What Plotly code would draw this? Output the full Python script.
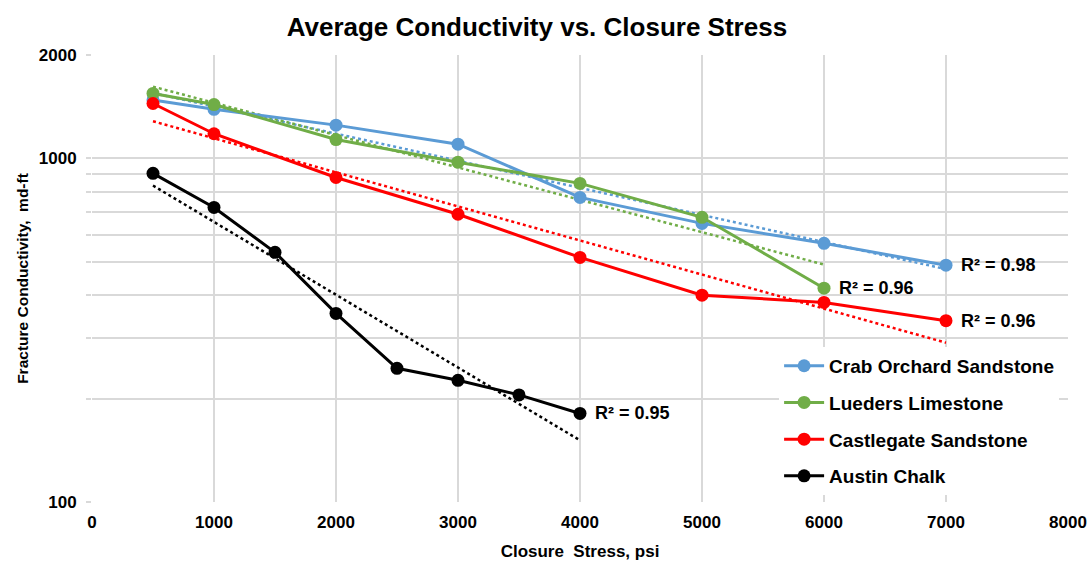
import numpy as np
import plotly.graph_objects as go

# Closure stress (psi) and average fracture conductivity (md-ft) per formation
crab_x = [500, 1000, 2000, 3000, 4000, 5000, 6000, 7000]
crab_y = [1480, 1390, 1250, 1100, 770, 647, 566, 489]

lueders_x = [500, 1000, 2000, 3000, 4000, 5000, 6000]
lueders_y = [1546, 1435, 1135, 975, 846, 674, 419]

castle_x = [500, 1000, 2000, 3000, 4000, 5000, 6000, 7000]
castle_y = [1445, 1180, 880, 688, 515, 400, 381, 337]

austin_x = [500, 1000, 1500, 2000, 2500, 3000, 3500, 4000]
austin_y = [905, 720, 533, 354, 245, 226, 205, 181]

names = ["Crab Orchard Sandstone", "Lueders Limestone", "Castlegate Sandstone", "Austin Chalk"]
colors = ["#5B9BD5", "#70AD47", "#FF0000", "#000000"]
r2_labels = ["R² = 0.98", "R² = 0.96", "R² = 0.96", "R² = 0.95"]

y_tickvals = [100, 200, 300, 400, 500, 600, 700, 800, 900, 1000, 2000]
y_ticktext = ["100", "", "", "", "", "", "", "", "", "1000", "2000"]

FONT = "Liberation Sans, Arial, sans-serif"
GRID = "#D9D9D9"

series = [(crab_x, crab_y), (lueders_x, lueders_y), (castle_x, castle_y), (austin_x, austin_y)]

fig = go.Figure()

# exponential trendlines (least squares on ln y), dotted
for (xs, ys), c in zip(series, colors):
    b, ln_a = np.polyfit(np.array(xs, float), np.log(np.array(ys, float)), 1)
    tx = np.array([xs[0], xs[-1]], float)
    fig.add_trace(go.Scatter(
        x=tx, y=np.exp(ln_a + b * tx), mode="lines",
        line=dict(color=c, width=2.5, dash="dot"),
        showlegend=False, hoverinfo="skip"))

# measured data
for i, ((xs, ys), c, n) in enumerate(zip(series, colors, names)):
    fig.add_trace(go.Scatter(
        x=xs, y=ys, mode="lines+markers", name=f"<b>{n}</b>",
        line=dict(color=c, width=3),
        marker=dict(color=c, size=13),
        legendgroup=f"g{i}"))

# R² labels at each series' last point
for (xs, ys), lab in zip(series, r2_labels):
    fig.add_annotation(
        x=xs[-1], y=np.log10(ys[-1]), text=f"<b>{lab}</b>", showarrow=False,
        xanchor="left", yanchor="middle", xshift=13,
        font=dict(family=FONT, size=18, color="#000000"))

fig.update_layout(
    width=1089, height=563,
    paper_bgcolor="white", plot_bgcolor="white",
    margin=dict(l=92, r=21, t=55, b=61),
    title=dict(text="<b>Average Conductivity vs. Closure Stress</b>",
               x=0.493, xanchor="center", y=0.952, yanchor="middle",
               font=dict(family=FONT, size=26, color="#000000")),
    font=dict(family=FONT, color="#000000"),
    legend=dict(x=0.704, y=0.347, xanchor="left", yanchor="top",
                bgcolor="white", traceorder="grouped", tracegroupgap=9,
                font=dict(family=FONT, size=19, color="#000000"),
                itemwidth=40),
    xaxis=dict(range=[0, 8000], dtick=1000, tick0=0, automargin=False,
               showgrid=True, gridcolor=GRID, gridwidth=2,
               zeroline=False, showline=False, ticks="",
               ticklabelstandoff=8,
               tickfont=dict(family=FONT, size=17, color="#000000"),
               tickformat="d", tickprefix="<b>", ticksuffix="</b>",
               title=dict(text="<b>Closure  Stress, psi</b>",
                          font=dict(family=FONT, size=17, color="#000000"),
                          standoff=14)),
    yaxis=dict(type="log", range=[2, np.log10(2000)], automargin=False,
               tickvals=y_tickvals,
               ticktext=[f"<b>{t}</b>" if t else "" for t in y_ticktext],
               showgrid=True, gridcolor=GRID, gridwidth=2,
               zeroline=False, showline=False,
               ticks="outside", ticklen=5, tickcolor=GRID, tickwidth=2,
               ticklabelstandoff=6,
               tickfont=dict(family=FONT, size=17, color="#000000"),
               title=dict(text="<b>Fracture Conductivity,  md-ft</b>",
                          font=dict(family=FONT, size=15.5, color="#000000"),
                          standoff=6)),
)

fig.write_html("out.html")
